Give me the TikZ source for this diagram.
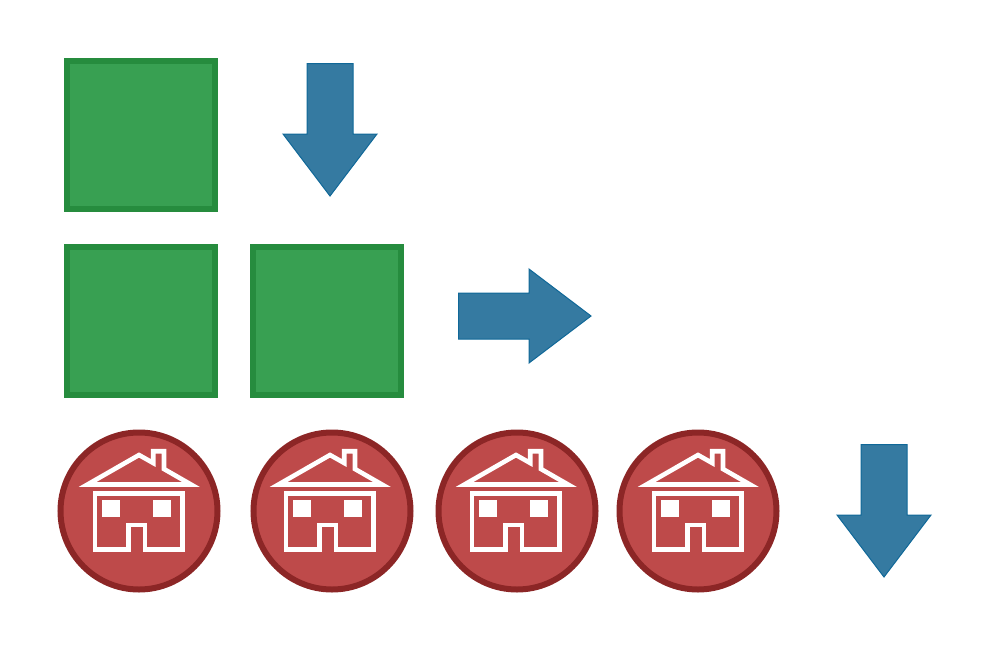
\documentclass[tikz,border=0pt]{standalone}
\usepackage{tikz}
\definecolor{dfgreen}{RGB}{56,160,82}
\definecolor{dfgreendark}{RGB}{38,140,62}
\definecolor{dfblue}{RGB}{53,122,161}
\definecolor{dfbluedark}{RGB}{16,104,152}
\definecolor{dfred}{RGB}{190,74,74}
\definecolor{dfreddark}{RGB}{140,38,38}

\begin{document}
\begin{tikzpicture}[x=0.2mm, y=-0.2mm,
    tile/.style={rectangle, draw=dfgreendark, fill=dfgreen, line width=1.2mm, minimum size=29.6mm, inner sep=0pt},
    homebase/.style={circle, draw=dfreddark, fill=dfred, line width=1.2mm, minimum size=31.4mm, inner sep=0pt},
    homeline/.style={draw=white, line width=0.92mm, miter limit=10},
    arrowshape/.style={draw=dfbluedark, fill=dfblue, line width=0.2mm},
    downarrow/.pic={
      \path[arrowshape] (-23,-70.5) -- (23,-70.5) -- (23,0) -- (47,0) -- (0,62) -- (-47,0) -- (-23,0) -- cycle;
    },
    rightarrow/.pic={
      \path[arrowshape] (-70.5,-23) -- (0,-23) -- (0,-47) -- (62,0) -- (0,47) -- (0,23) -- (-70.5,23) -- cycle;
    },
    homeicon/.pic={
      % roof with chimney
      \path[homeline] (-51.5,-26.5) -- (0,-56) -- (14.2,-48) -- (14.2,-59.8) -- (25,-59.8) -- (25,-42) -- (52,-26.5) -- cycle;
      % walls and door
      \path[homeline] (-44.2,-17.8) -- (43.5,-17.8) -- (43.5,38.6) -- (6,38.6) -- (6,13.8) -- (-10.7,13.8) -- (-10.7,38.6) -- (-44.2,38.6) -- cycle;
      % windows
      \fill[white] (-37.3,-11.3) rectangle (-19.3,6);
      \fill[white] (13.7,-11.3) rectangle (31.7,6);
    }]

% keeps the page at the size of the reference
\useasboundingbox (0,0) rectangle (988,650);

% Squares
\node[tile] (tiletop) at (141,135) {};
\node[tile] (tileleft) at (141,321) {};
\node[tile] (tileright) at (327,321) {};

% Arrows
\pic (arrowtop) at (330,134) {downarrow};
\pic (arrowmiddle) at (529,316) {rightarrow};
\pic (arrowbottom) at (884,515) {downarrow};

% Houses
\foreach \name/\xpos/\xicon in {homea/139/139, homeb/332/330, homec/517/516, homed/698/698} {
  \node[homebase] (\name) at (\xpos,511) {};
  \pic at (\xicon,511) {homeicon};
}
\end{tikzpicture}
\end{document}
